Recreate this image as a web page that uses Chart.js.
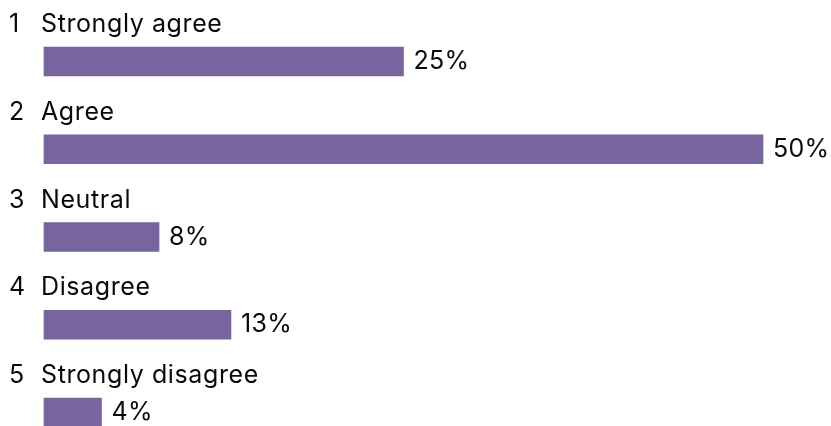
<!DOCTYPE html>
<html>
<head>
<meta charset="utf-8">
<script src="https://cdn.jsdelivr.net/npm/chart.js@4"></script>
<style>
  html, body { margin: 0; padding: 0; background: #ffffff; overflow: hidden; }
  #wrap { width: 831px; height: 426px; }
</style>
</head>
<body>
<div id="wrap"><canvas id="c" width="831" height="426"></canvas></div>
<script>
const categories = ["Strongly agree", "Agree", "Neutral", "Disagree", "Strongly disagree"];
const numbers = ["1", "2", "3", "4", "5"];
const values = [25, 50, 8, 13, 4];
const valueLabels = ["25%", "50%", "8%", "13%", "4%"];

const FONT = "Inter, 'Liberation Sans', sans-serif";

const labelPlugin = {
  id: 'barLabels',
  afterDatasetsDraw(chart) {
    const ctx = chart.ctx;
    const meta = chart.getDatasetMeta(0);
    ctx.save();
    ctx.fillStyle = '#0a0a0a';
    ctx.textBaseline = 'alphabetic';
    ctx.textAlign = 'left';
    meta.data.forEach((bar, i) => {
      ctx.font = "25px " + FONT;
      ctx.fillText(numbers[i], 9, bar.y - 29.5);
      ctx.letterSpacing = '0.6px';
      ctx.fillText(categories[i], 41, bar.y - 29.5);
      ctx.letterSpacing = '0.3px';
      ctx.fillText(valueLabels[i], bar.x + 10, bar.y + 7.5);
      ctx.letterSpacing = '0px';
    });
    ctx.restore();
  }
};

new Chart(document.getElementById('c'), {
  type: 'bar',
  data: {
    labels: categories,
    datasets: [{
      data: values,
      backgroundColor: '#78649e',
      borderWidth: 0,
      barThickness: 29,
      clip: false
    }]
  },
  options: {
    indexAxis: 'y',
    responsive: false,
    devicePixelRatio: 1,
    animation: false,
    layout: { padding: { left: 44, right: 68, top: 61.5, bottom: 13.5 } },
    plugins: { legend: { display: false }, tooltip: { enabled: false } },
    scales: {
      x: { display: false, min: 0, max: 50 },
      y: { display: false, offset: false }
    }
  },
  plugins: [labelPlugin]
});
</script>
</body>
</html>
